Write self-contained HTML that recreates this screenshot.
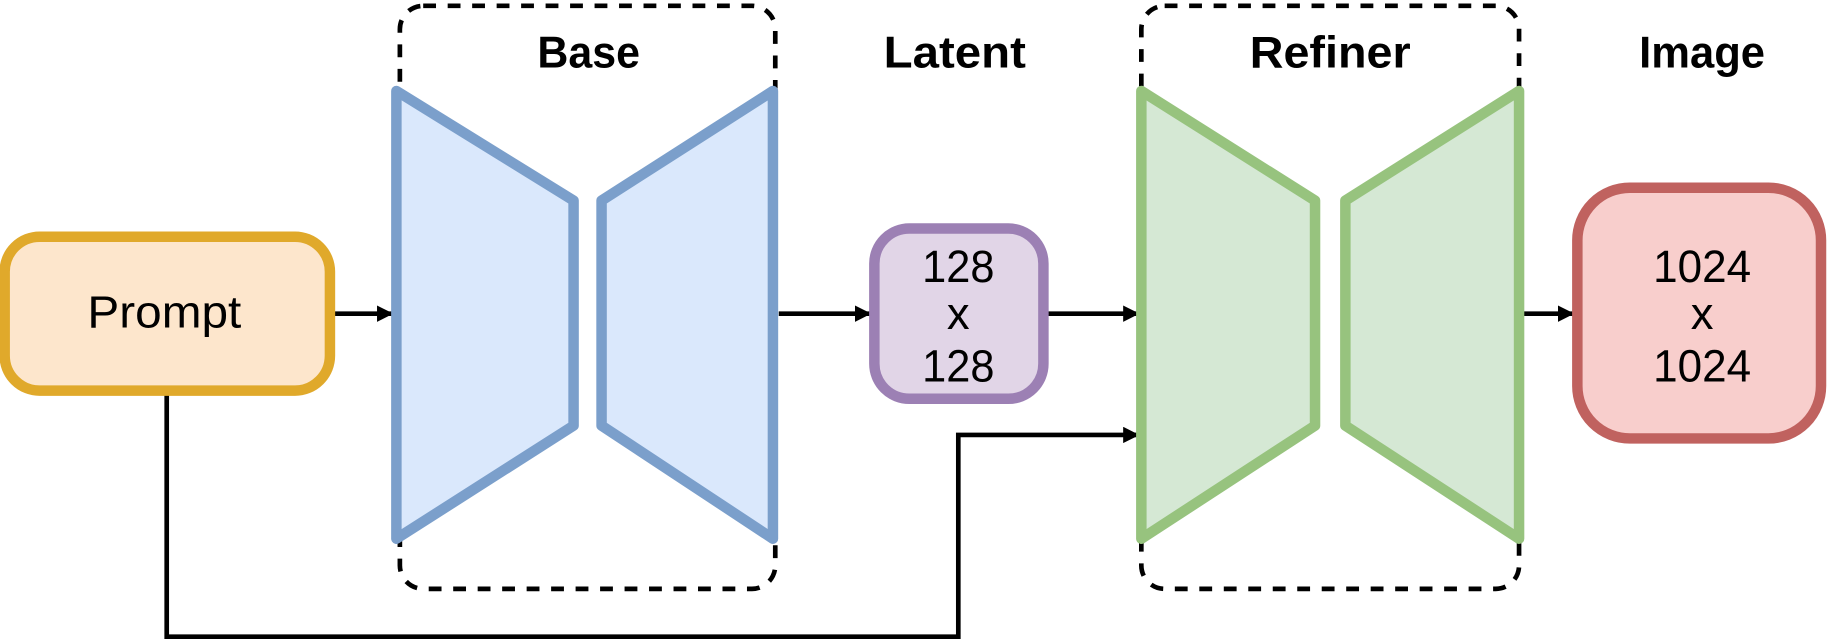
<!DOCTYPE html>
<html><head><meta charset="utf-8"><style>
html,body{margin:0;padding:0;background:#fff;}
svg{display:block;}
text{font-family:"Liberation Sans",sans-serif;}
</style></head><body>
<svg width="1828" height="639" viewBox="0 0 1568 548" preserveAspectRatio="none" xmlns="http://www.w3.org/2000/svg">
<defs>
<marker id="b" viewBox="0 0 10 10" markerWidth="14" markerHeight="14" refX="9" refY="5" orient="auto" markerUnits="userSpaceOnUse">
<path d="M0,0 L10,5 L0,10 z" fill="#000"/></marker>
</defs>
<!-- dashed boxes -->
<rect x="343" y="5" width="322" height="500" rx="20" fill="none" stroke="#000" stroke-width="4" stroke-dasharray="11,10"/>
<rect x="979" y="5" width="324" height="500" rx="20" fill="none" stroke="#000" stroke-width="4" stroke-dasharray="11,10"/>
<!-- labels -->
<g font-weight="bold" font-size="38" text-anchor="middle" lengthAdjust="spacingAndGlyphs">
<text x="505" y="58" textLength="88" lengthAdjust="spacingAndGlyphs">Base</text>
<text x="819" y="58" textLength="122" lengthAdjust="spacingAndGlyphs">Latent</text>
<text x="1141" y="58" textLength="138" lengthAdjust="spacingAndGlyphs">Refiner</text>
<text x="1460" y="58" textLength="108" lengthAdjust="spacingAndGlyphs">Image</text>
</g>
<!-- connectors -->
<g stroke="#000" stroke-width="4" fill="none">
<line x1="284" y1="269" x2="336" y2="269" marker-end="url(#b)"/>
<line x1="668" y1="269" x2="746" y2="269" marker-end="url(#b)"/>
<line x1="898" y1="269" x2="976" y2="269" marker-end="url(#b)"/>
<line x1="1306" y1="269" x2="1349" y2="269" marker-end="url(#b)"/>
<polyline points="143,337 143,546 822,546 822,373 976,373" marker-end="url(#b)"/>
</g>
<!-- prompt -->
<rect x="4" y="203" width="279" height="132" rx="30" fill="#fde6cc" stroke="#e0a92b" stroke-width="9"/>
<text x="141" y="281" font-size="39" text-anchor="middle" textLength="132" lengthAdjust="spacingAndGlyphs">Prompt</text>
<!-- base -->
<g fill="#dae8fc" stroke="#7b9fcb" stroke-width="9" stroke-linejoin="round">
<polygon points="340,78 492,172 492,365 340,462"/>
<polygon points="516,172 663,78 663,462 516,365"/>
</g>
<!-- latent -->
<rect x="750" y="196" width="145" height="146" rx="30" fill="#e1d5e7" stroke="#9c80b4" stroke-width="9"/>
<g font-size="39" text-anchor="middle">
<text x="822" y="242" textLength="62" lengthAdjust="spacingAndGlyphs">128</text>
<text x="822" y="282">x</text>
<text x="822" y="327" textLength="62" lengthAdjust="spacingAndGlyphs">128</text>
</g>
<!-- refiner -->
<g fill="#d5e8d4" stroke="#97c37e" stroke-width="9" stroke-linejoin="round">
<polygon points="979,78 1128,172 1128,365 979,462"/>
<polygon points="1154,172 1303,78 1303,462 1154,365"/>
</g>
<!-- image -->
<rect x="1353" y="161" width="209" height="215" rx="45" fill="#f8cecc" stroke="#c0625f" stroke-width="9"/>
<g font-size="39" text-anchor="middle">
<text x="1460" y="242" textLength="84" lengthAdjust="spacingAndGlyphs">1024</text>
<text x="1460" y="282">x</text>
<text x="1460" y="327" textLength="84" lengthAdjust="spacingAndGlyphs">1024</text>
</g>
</svg>
</body></html>
